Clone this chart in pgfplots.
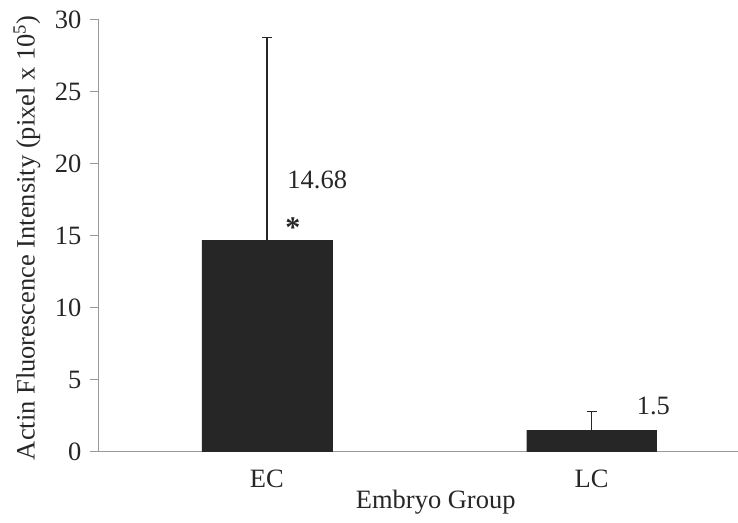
\documentclass[border=0pt]{standalone}
\usepackage{pgfplots}
\pgfplotsset{compat=1.18}
\usepackage{fontspec}
\setmainfont{Liberation Serif}
\definecolor{axgray}{HTML}{999999}
\definecolor{barc}{HTML}{262626}
\begin{document}
\begin{tikzpicture}
\begin{axis}[
  at={(0,0)}, anchor=south west,
  scale only axis, width=639pt, height=432pt,
  xmin=-0.517, xmax=1.449, ymin=0, ymax=30,
  ytick={0,5,...,30},
  xtick={0,1}, xticklabels={EC,LC},
  axis x line*=bottom, axis y line*=left,
  axis line style={axgray, line width=1pt, -},
  every tick/.style={axgray, line width=1pt},
  tick align=outside, major tick length=9pt,
  x tick style={draw=none},
  /pgf/number format/assume math mode=true,
  tick label style={font=\fontsize{26.5}{29}\selectfont, text=black!85},
  yticklabel style={xshift=-5pt},
  xticklabel style={yshift=-6pt},
  clip=false,
]
\addplot[ybar, bar width=130pt, fill=barc, draw=barc,
  error bars/.cd, y dir=plus, y explicit,
  error bar style={line width=1.5pt, barc},
  error mark options={rotate=90, mark size=5pt, line width=1.5pt, barc}]
  coordinates {(0,14.68) +- (0,14.12) (1,1.5) +- (0,1.28)};
\node[font=\fontsize{26.5}{29}\selectfont, text=black!85] at (axis cs:0.155,18.9) {14.68};
\node[font=\fontsize{30}{32}\selectfont\bfseries, text=black!85] at (axis cs:0.08,15.6) {*};
\node[font=\fontsize{26.5}{29}\selectfont, text=black!85] at (axis cs:1.19,3.15) {1.5};
\node[font=\fontsize{26.5}{29}\selectfont, text=black!85] at (axis cs:0.52,-3.5) {Embryo Group};
\node[font=\fontsize{26.5}{29}\selectfont, text=black!85, rotate=90] at (-72pt,214pt) {Actin Fluorescence Intensity (pixel x 10\textsuperscript{5})};
\end{axis}
\useasboundingbox (-99pt,-71pt) rectangle (639pt,452pt);
\end{tikzpicture}
\end{document}
